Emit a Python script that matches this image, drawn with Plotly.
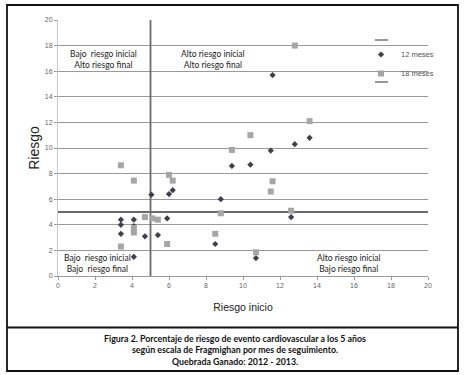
import plotly.graph_objects as go

# ---- data ----
x12 = [3.4, 3.4, 3.4, 4.1, 4.1, 4.1, 4.7, 5.05, 5.4, 5.9, 6.0, 6.2, 8.5, 8.8, 9.4, 10.4, 10.7, 11.5, 11.6, 12.6, 12.8, 13.6]
y12 = [4.4, 4.0, 3.3, 4.4, 3.9, 1.5, 3.1, 6.35, 3.2, 4.5, 6.4, 6.7, 2.5, 6.0, 8.6, 8.7, 1.4, 9.8, 15.7, 4.6, 10.3, 10.8]

x18 = [3.4, 3.4, 4.1, 4.1, 4.1, 4.7, 5.1, 5.4, 5.9, 6.0, 6.2, 8.5, 8.8, 9.4, 10.4, 10.7, 11.5, 11.6, 12.6, 12.8, 13.6]
y18 = [8.65, 2.3, 7.45, 3.75, 3.4, 4.6, 4.5, 4.4, 2.5, 7.9, 7.45, 3.3, 4.9, 9.85, 11.0, 1.85, 6.6, 7.4, 5.1, 18.0, 12.1]

threshold = 5
axis_min, axis_max = 0, 20
ticks = list(range(0, 21, 2))

series_names = ["12 meses", "18 meses"]
x_title = "Riesgo inicio"
y_title = "Riesgo"
quadrant_labels = [
    ("Bajo  riesgo inicial<br>Alto riesgo final", 2.45, 16.9),
    ("Alto riesgo inicial<br>Alto riesgo final", 8.4, 16.9),
    ("Bajo  riesgo inicial<br>Bajo  riesgo final", 2.15, 1.0),
    ("Alto riesgo inicial<br>Bajo riesgo final", 15.75, 1.0),
]
caption_lines = [
    "Figura 2. Porcentaje de riesgo de evento cardiovascular a los 5 años",
    "según escala de Fragmighan por mes de seguimiento.",
    "Quebrada Ganado: 2012 - 2013.",
]

LABEL_FONT = "Lato, Roboto, Liberation Sans, sans-serif"
SANS = "Liberation Sans, Arial, sans-serif"


def px_x(p):
    return (p - 58) / 370


def px_y(p):
    return (276 - p) / 256


fig = go.Figure()

# threshold lines
fig.add_trace(go.Scatter(x=[threshold, threshold], y=[axis_min, axis_max], mode="lines",
                         line=dict(color="#6b6b6b", width=1.8), showlegend=False, hoverinfo="skip"))
fig.add_trace(go.Scatter(x=[axis_min, axis_max], y=[threshold, threshold], mode="lines",
                         line=dict(color="#6b6b6b", width=1.8), showlegend=False, hoverinfo="skip"))

fig.add_trace(go.Scatter(x=x12, y=y12, mode="markers", name=series_names[0],
                         marker=dict(symbol="diamond", size=4.8, color="#40404c")))
fig.add_trace(go.Scatter(x=x18, y=y18, mode="markers", name=series_names[1],
                         marker=dict(symbol="square", size=6, color="#a6a6a6")))

annotations = []
for text, ax, ay in quadrant_labels:
    annotations.append(dict(x=ax, y=ay, xref="x", yref="y", text=text, showarrow=False,
                            font=dict(family=LABEL_FONT, size=8.5, color="#222222"),
                            xanchor="center", yanchor="middle", align="center"))

cap_y = [338, 349.5, 361]
for line, py in zip(caption_lines, cap_y):
    annotations.append(dict(x=px_x(234.5), y=px_y(py), xref="paper", yref="paper",
                            text="<b>" + line + "</b>", showarrow=False,
                            font=dict(family=LABEL_FONT, size=8.8, color="#111111"),
                            xanchor="center", yanchor="middle"))

legend_top = 36
shapes = [
    # white panel behind the legend (hides the gridlines there)
    dict(type="rect", xref="paper", yref="paper", x0=px_x(370), x1=px_x(428.5),
         y0=px_y(legend_top + 52), y1=px_y(legend_top - 4),
         line=dict(width=0), fillcolor="white", layer="between"),
    # outer frame
    dict(type="rect", xref="paper", yref="paper", x0=px_x(7), x1=px_x(458), y0=px_y(371), y1=px_y(5),
         line=dict(color="#111111", width=1.8), fillcolor="rgba(0,0,0,0)", layer="above"),
    # caption separator
    dict(type="line", xref="paper", yref="paper", x0=px_x(7), x1=px_x(458), y0=px_y(327.5), y1=px_y(327.5),
         line=dict(color="#111111", width=1.8), layer="above"),
    # legend dashes standing for the threshold lines
    dict(type="line", xref="paper", yref="paper", x0=px_x(375), x1=px_x(388),
         y0=px_y(legend_top + 4), y1=px_y(legend_top + 4),
         line=dict(color="#555555", width=1.2), layer="above"),
    dict(type="line", xref="paper", yref="paper", x0=px_x(375), x1=px_x(388),
         y0=px_y(legend_top + 46), y1=px_y(legend_top + 46),
         line=dict(color="#555555", width=1.2), layer="above"),
]

fig.update_layout(
    width=464, height=375,
    margin=dict(l=58, r=36, t=20, b=99),
    paper_bgcolor="white", plot_bgcolor="white",
    font=dict(family=SANS, color="#555555"),
    showlegend=True,
    legend=dict(x=px_x(361), y=px_y(legend_top + 4), xanchor="left", yanchor="top",
                bgcolor="rgba(0,0,0,0)", borderwidth=0,
                font=dict(family=SANS, size=7.5, color="#555555"),
                tracegroupgap=0, itemwidth=30),
    xaxis=dict(range=[axis_min, axis_max], tickvals=ticks, showgrid=False, zeroline=False,
               showline=True, linecolor="#9a9a9a", linewidth=1, ticks="outside", ticklen=3,
               tickcolor="#9a9a9a", tickfont=dict(family=SANS, size=7, color="#666666"),
               title=dict(text=x_title, font=dict(family=SANS, size=10.5, color="#222222"), standoff=15)),
    yaxis=dict(range=[axis_min, axis_max], tickvals=ticks, showgrid=True, gridcolor="#9a9a9a",
               gridwidth=1, zeroline=False, showline=True, linecolor="#c8c8c8", linewidth=1,
               ticks="outside", ticklen=3, tickcolor="#9a9a9a",
               tickfont=dict(family=SANS, size=7, color="#666666"),
               title=dict(text=y_title, font=dict(family=SANS, size=14, color="#222222"), standoff=1)),
    annotations=annotations,
    shapes=shapes,
)

fig.write_html("out.html", config={"displayModeBar": False},
               post_script="document.body.style.margin='0';")
